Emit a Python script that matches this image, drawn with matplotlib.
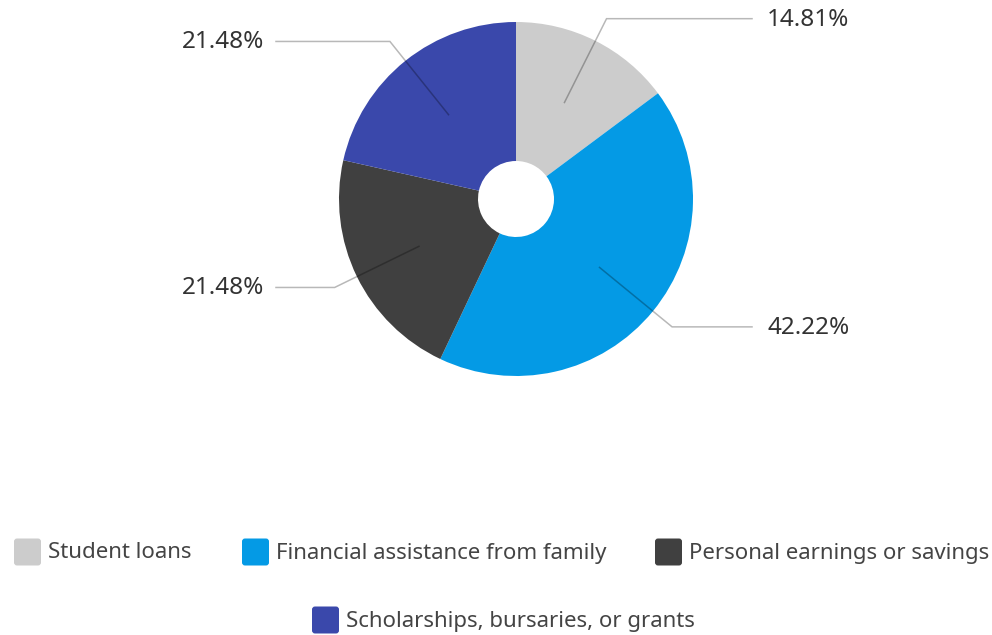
import matplotlib
matplotlib.use('Agg')
import numpy as np
import matplotlib.pyplot as plt
from matplotlib.patches import FancyBboxPatch

plt.rcParams['font.family'] = ['Noto Sans', 'DejaVu Sans']

# funding sources (percent of respondents)
categories = ['Student loans', 'Financial assistance from family',
              'Personal earnings or savings', 'Scholarships, bursaries, or grants']
shares = [14.81, 42.22, 21.48, 21.48]
colors = ['#cccccc', '#049ae5', '#404040', '#3a48ab']

W, H = 992, 635
fig = plt.figure(figsize=(W / 100, H / 100), dpi=100)
ax = fig.add_axes([0, 0, 1, 1])

cx, cy = 516, H - 199
R = 177
hole = 38

wedges, _ = ax.pie(shares, colors=colors, startangle=90, counterclock=False,
                   radius=R, center=(cx, cy), frame=True,
                   wedgeprops=dict(width=R - hole, linewidth=0))
ax.set_xlim(0, W)
ax.set_ylim(0, H)
ax.set_aspect('equal')
ax.axis('off')

# leader lines and percentage labels
for w, val in zip(wedges, shares):
    ang = np.deg2rad((w.theta1 + w.theta2) / 2)
    ca, sa = np.cos(ang), np.sin(ang)
    x0, y0 = cx + 0.61 * R * ca, cy + 0.61 * R * sa
    x1, y1 = cx + 1.14 * R * ca, cy + 1.14 * R * sa
    if ca >= 0:
        x2, tx, ha = 752, 767, 'left'
    else:
        x2, tx, ha = 276, 264, 'right'
    ax.plot([x0, x1, x2], [y0, y1, y1], color='black', alpha=0.28, lw=1.1,
            solid_joinstyle='miter')
    ax.text(tx, y1 - 1, f'{val:.2f}%', ha=ha, va='center', fontsize=17.5,
            color='#333333')

# legend
legend_pos = [(14, 552), (242, 552), (655, 552), (312, 620)]
box = 27
for (lx, ly), lab, col in zip(legend_pos, categories, colors):
    yb = H - ly
    ax.add_patch(FancyBboxPatch((lx + 3, yb - box / 2 + 3), box - 6, box - 6,
                                boxstyle='round,pad=3', fc=col, ec='none'))
    ax.text(lx + box + 7, yb - 1, lab, ha='left', va='center', fontsize=16,
            color='#444444')

fig.savefig('out.png', dpi=100)
